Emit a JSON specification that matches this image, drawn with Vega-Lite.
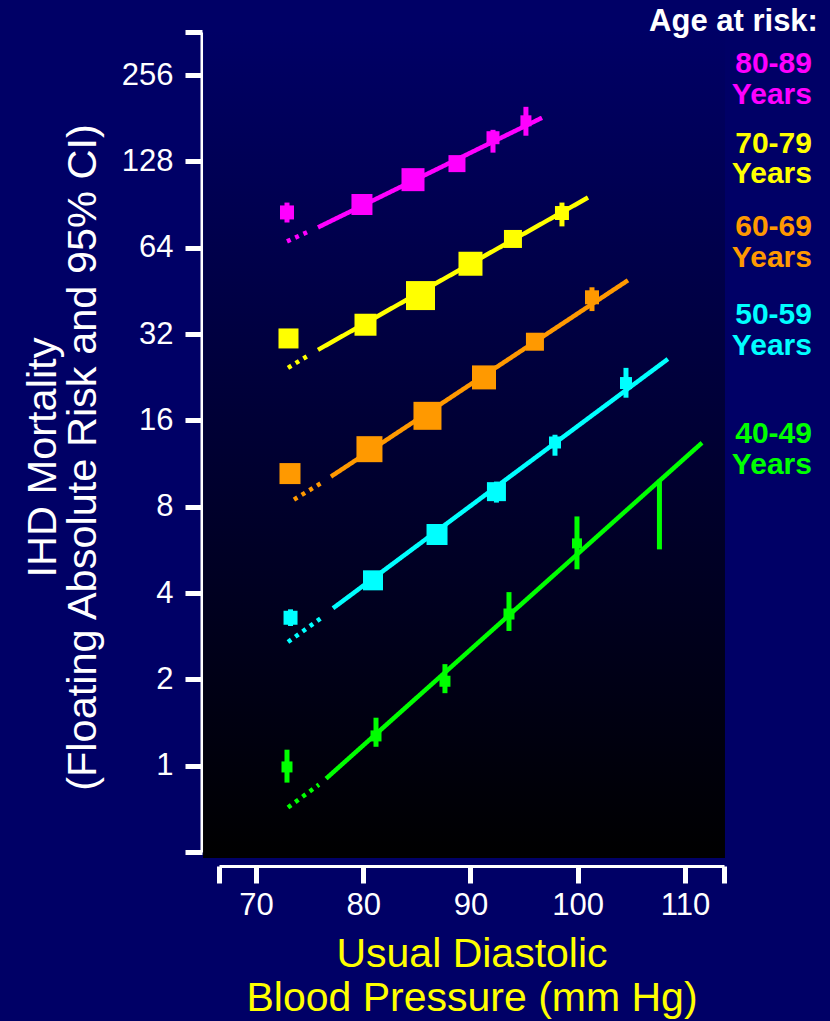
{
  "$schema": "https://vega.github.io/schema/vega-lite/v6.json",
  "width": 505,
  "height": 820,
  "autosize": "none",
  "padding": {"left": 219, "top": 32, "right": 106, "bottom": 169},
  "background": "#000066",
  "config": {"view": {"stroke": null}, "font": "Liberation Sans"},
  "datasets": {
    "one": [{}],
    "points": [
      {"age": "80-89", "bp": 72.89, "risk": 85.0, "n": 14, "lo": 78.4, "hi": 92.0},
      {"age": "80-89", "bp": 79.88, "risk": 90.6, "n": 21},
      {"age": "80-89", "bp": 84.64, "risk": 110.6, "n": 23},
      {"age": "80-89", "bp": 88.74, "risk": 125.8, "n": 17},
      {"age": "80-89", "bp": 92.10, "risk": 154.9, "n": 13, "lo": 137.4, "hi": 165},
      {"age": "80-89", "bp": 95.17, "risk": 177.4, "n": 11, "lo": 157.4, "hi": 198.5},
      {"age": "70-79", "bp": 73.03, "risk": 30.9, "n": 20},
      {"age": "70-79", "bp": 80.21, "risk": 34.5, "n": 22},
      {"age": "70-79", "bp": 85.34, "risk": 43.6, "n": 29},
      {"age": "70-79", "bp": 90.0, "risk": 56.3, "n": 24},
      {"age": "70-79", "bp": 93.96, "risk": 68.7, "n": 18},
      {"age": "70-79", "bp": 98.53, "risk": 84.6, "n": 14, "lo": 76.0, "hi": 92.0},
      {"age": "60-69", "bp": 73.17, "risk": 10.44, "n": 21},
      {"age": "60-69", "bp": 80.58, "risk": 12.7, "n": 26},
      {"age": "60-69", "bp": 85.99, "risk": 16.6, "n": 28},
      {"age": "60-69", "bp": 91.26, "risk": 22.6, "n": 24},
      {"age": "60-69", "bp": 96.01, "risk": 30.1, "n": 18},
      {"age": "60-69", "bp": 101.33, "risk": 43.0, "n": 14, "lo": 38.5, "hi": 46.6},
      {"age": "50-59", "bp": 73.22, "risk": 3.28, "n": 14, "lo": 3.07, "hi": 3.51},
      {"age": "50-59", "bp": 80.91, "risk": 4.43, "n": 20},
      {"age": "50-59", "bp": 86.88, "risk": 6.40, "n": 21},
      {"age": "50-59", "bp": 92.42, "risk": 9.03, "n": 19, "lo": 8.27, "hi": 9.79},
      {"age": "50-59", "bp": 97.88, "risk": 13.4, "n": 12, "lo": 12.05, "hi": 14.26},
      {"age": "50-59", "bp": 104.5, "risk": 21.6, "n": 12, "lo": 19.2, "hi": 24.4},
      {"age": "40-49", "bp": 72.89, "risk": 0.99, "n": 11, "lo": 0.873, "hi": 1.137},
      {"age": "40-49", "bp": 81.19, "risk": 1.27, "n": 11, "lo": 1.164, "hi": 1.47},
      {"age": "40-49", "bp": 87.62, "risk": 1.97, "n": 11, "lo": 1.79, "hi": 2.26},
      {"age": "40-49", "bp": 93.59, "risk": 3.38, "n": 11, "lo": 2.95, "hi": 4.03},
      {"age": "40-49", "bp": 99.93, "risk": 5.96, "n": 10, "lo": 4.84, "hi": 7.40},
      {"age": "40-49", "bp": 107.62, "risk": 7.5, "n": 0, "lo": 5.68, "hi": 9.94}
    ],
    "fits": [
      {"age": "80-89", "seg": "solid", "bp": 75.78, "risk": 75.4},
      {"age": "80-89", "seg": "solid", "bp": 96.67, "risk": 181.8},
      {"age": "80-89", "seg": "dotted", "bp": 72.89, "risk": 67.4},
      {"age": "80-89", "seg": "dotted", "bp": 74.94, "risk": 73.0},
      {"age": "70-79", "seg": "solid", "bp": 75.78, "risk": 28.2},
      {"age": "70-79", "seg": "solid", "bp": 100.96, "risk": 95.8},
      {"age": "70-79", "seg": "dotted", "bp": 72.98, "risk": 24.4},
      {"age": "70-79", "seg": "dotted", "bp": 75.13, "risk": 27.3},
      {"age": "60-69", "seg": "solid", "bp": 76.99, "risk": 10.19},
      {"age": "60-69", "seg": "solid", "bp": 104.69, "risk": 49.3},
      {"age": "60-69", "seg": "dotted", "bp": 73.54, "risk": 8.47},
      {"age": "60-69", "seg": "dotted", "bp": 76.15, "risk": 9.71},
      {"age": "50-59", "seg": "solid", "bp": 77.18, "risk": 3.54},
      {"age": "50-59", "seg": "solid", "bp": 108.41, "risk": 26.2},
      {"age": "50-59", "seg": "dotted", "bp": 72.98, "risk": 2.70},
      {"age": "50-59", "seg": "dotted", "bp": 76.06, "risk": 3.27},
      {"age": "40-49", "seg": "solid", "bp": 76.53, "risk": 0.901},
      {"age": "40-49", "seg": "solid", "bp": 111.59, "risk": 13.37},
      {"age": "40-49", "seg": "dotted", "bp": 72.98, "risk": 0.715},
      {"age": "40-49", "seg": "dotted", "bp": 75.87, "risk": 0.859}
    ]
  },
  "layer": [
    {
      "data": {"name": "one"},
      "mark": {
        "type": "rect",
        "fill": {
          "gradient": "linear", "x1": 0, "y1": 0, "x2": 0, "y2": 1,
          "stops": [{"offset": 0, "color": "#000066"}, {"offset": 1, "color": "#000000"}]
        },
        "opacity": 1
      },
      "encoding": {
        "x": {"datum": 65.06, "type": "quantitative"},
        "x2": {"datum": 113.73},
        "y": {"datum": 368, "type": "quantitative"},
        "y2": {"datum": 0.4766}
      }
    },
    {
      "data": {"name": "fits"},
      "mark": {"type": "line", "strokeWidth": 4.5, "strokeCap": "butt"},
      "encoding": {
        "x": {
          "field": "bp", "type": "quantitative",
          "scale": {"domain": [66.55, 113.64], "nice": false, "zero": false},
          "axis": {
            "values": [66.55, 70, 80, 90, 100, 110, 113.64],
            "labelExpr": "datum.value >= 69 && datum.value <= 111 ? datum.label : ''",
            "format": "d",
            "grid": false, "offset": 14, "tickSize": 17, "tickWidth": 5, "domainWidth": 3,
            "domainColor": "#FFFFFF", "tickColor": "#FFFFFF", "labelColor": "#FFFFFF",
            "labelFontSize": 31, "labelPadding": 7, "labelFlush": false, "labelOverlap": false,
            "title": ["Usual Diastolic", "Blood Pressure (mm Hg)"],
            "titleColor": "#FFFF00", "titleFontSize": 41, "titleFontWeight": "normal",
            "titleLineHeight": 44, "titlePadding": 14
          }
        },
        "y": {
          "field": "risk", "type": "quantitative",
          "scale": {"type": "log", "base": 2, "domain": [0.5, 362], "nice": false},
          "axis": {
            "values": [0.5, 1, 2, 4, 8, 16, 32, 64, 128, 256, 362],
            "labelExpr": "datum.value >= 1 && datum.value <= 256 ? datum.label : ''",
            "format": "d",
            "grid": false, "offset": 17, "tickSize": 17, "tickWidth": 5, "domainWidth": 4,
            "domainColor": "#FFFFFF", "tickColor": "#FFFFFF", "labelColor": "#FFFFFF",
            "labelFontSize": 31, "labelPadding": 12, "labelOverlap": false, "labelFlush": false,
            "title": ["IHD Mortality", "(Floating Absolute Risk and 95% CI)"],
            "titleColor": "#FFFFFF", "titleFontSize": 41.5, "titleFontWeight": "normal",
            "titleLineHeight": 40, "titlePadding": 17, "titleY": 425
          }
        },
        "color": {
          "field": "age", "type": "nominal",
          "scale": {"domain": ["80-89", "70-79", "60-69", "50-59", "40-49"], "range": ["#FF00FF", "#FFFF00", "#FF9900", "#00FFFF", "#00FF00"]},
          "legend": null
        },
        "strokeDash": {
          "field": "seg", "type": "nominal",
          "scale": {"domain": ["solid", "dotted"], "range": [[1, 0], [4, 5]]},
          "legend": null
        }
      }
    },
    {
      "data": {"name": "points"},
      "transform": [{"filter": "isValid(datum.lo)"}],
      "mark": {"type": "rule", "strokeWidth": 5},
      "encoding": {
        "x": {"field": "bp", "type": "quantitative"},
        "y": {"field": "lo", "type": "quantitative"},
        "y2": {"field": "hi"},
        "color": {"field": "age", "type": "nominal", "legend": null}
      }
    },
    {
      "data": {"name": "points"},
      "mark": {"type": "point", "shape": "square", "filled": true, "opacity": 1},
      "encoding": {
        "x": {"field": "bp", "type": "quantitative"},
        "y": {"field": "risk", "type": "quantitative"},
        "color": {"field": "age", "type": "nominal", "legend": null},
        "size": {
          "field": "n", "type": "quantitative",
          "scale": {"type": "pow", "exponent": 2, "domain": [0, 30], "range": [0, 900]},
          "legend": null
        }
      }
    },
    {
      "data": {"name": "one"},
      "mark": {"type": "text", "text": "Age at risk:", "align": "right", "baseline": "middle", "fontSize": 31, "fontWeight": "bold", "color": "#FFFFFF"},
      "encoding": {"x": {"datum": 122.4, "type": "quantitative"}, "y": {"datum": 393, "type": "quantitative"}}
    },
    {
      "data": {"name": "one"},
      "mark": {"type": "text", "text": "80-89\nYears", "lineBreak": "\n", "lineHeight": 30.5, "align": "right", "baseline": "middle", "fontSize": 30, "fontWeight": "bold", "color": "#FF00FF"},
      "encoding": {"x": {"datum": 121.84, "type": "quantitative"}, "y": {"datum": 279.9, "type": "quantitative"}}
    },
    {
      "data": {"name": "one"},
      "mark": {"type": "text", "text": "70-79\nYears", "lineBreak": "\n", "lineHeight": 30.5, "align": "right", "baseline": "middle", "fontSize": 30, "fontWeight": "bold", "color": "#FFFF00"},
      "encoding": {"x": {"datum": 121.84, "type": "quantitative"}, "y": {"datum": 147.3, "type": "quantitative"}}
    },
    {
      "data": {"name": "one"},
      "mark": {"type": "text", "text": "60-69\nYears", "lineBreak": "\n", "lineHeight": 30.5, "align": "right", "baseline": "middle", "fontSize": 30, "fontWeight": "bold", "color": "#FF9900"},
      "encoding": {"x": {"datum": 121.84, "type": "quantitative"}, "y": {"datum": 75.6, "type": "quantitative"}}
    },
    {
      "data": {"name": "one"},
      "mark": {"type": "text", "text": "50-59\nYears", "lineBreak": "\n", "lineHeight": 30.5, "align": "right", "baseline": "middle", "fontSize": 30, "fontWeight": "bold", "color": "#00FFFF"},
      "encoding": {"x": {"datum": 121.84, "type": "quantitative"}, "y": {"datum": 37.28, "type": "quantitative"}}
    },
    {
      "data": {"name": "one"},
      "mark": {"type": "text", "text": "40-49\nYears", "lineBreak": "\n", "lineHeight": 30.5, "align": "right", "baseline": "middle", "fontSize": 30, "fontWeight": "bold", "color": "#00FF00"},
      "encoding": {"x": {"datum": 121.84, "type": "quantitative"}, "y": {"datum": 14.34, "type": "quantitative"}}
    }
  ]
}
